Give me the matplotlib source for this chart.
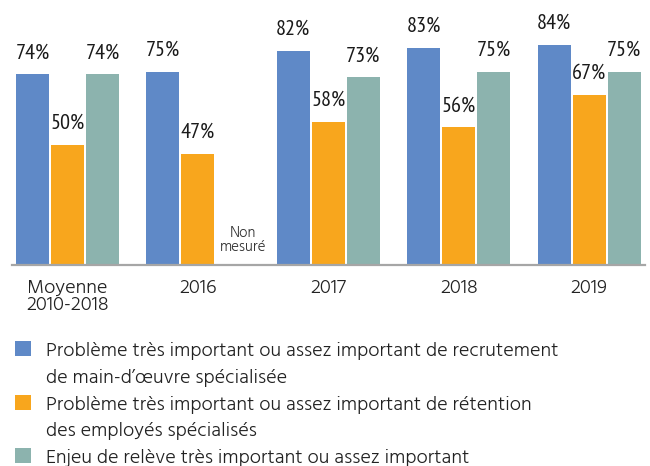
import matplotlib
matplotlib.use("Agg")
import matplotlib.pyplot as plt
from matplotlib.patches import Rectangle
import numpy as np

categories = ["Moyenne\n2010-2018", "2016", "2017", "2018", "2019"]
series_names = [
    "Problème très important ou assez important de recrutement\nde main-d\u2019œuvre spécialisée",
    "Problème très important ou assez important de rétention\ndes employés spécialisés",
    "Enjeu de relève très important ou assez important",
]
recrutement = [74, 75, 82, 83, 84]
retention = [50, 47, 58, 56, 67]
releve = [74, None, 73, 75, 75]
missing_note = "Non\nmesuré"

colors = ["#5F89C7", "#F8A61D", "#8CB3AE"]
series = [recrutement, retention, releve]

W, H = 650, 466
fig = plt.figure(figsize=(W / 100, H / 100), dpi=100)
ax = fig.add_axes([12 / W, 1 - 265 / H, 633 / W, 265 / H])

val_font = "PT Sans Narrow"
txt_font = "Hind"

x = np.arange(len(categories))
bw = 0.253
step = 0.268
for i, (vals, c) in enumerate(zip(series, colors)):
    off = (i - 1) * step
    for xi, v in zip(x, vals):
        if v is None:
            ax.text(xi + off + 0.078, 14.07, missing_note, ha="center", va="baseline",
                    fontsize=10.8, family=txt_font, fontweight="light", color="#333333",
                    linespacing=1.0)
            continue
        ax.bar(xi + off, v, width=bw, color=c, linewidth=0)
        ax.annotate(f"{v}%", (xi + off, v), xytext=(0, 11.5), textcoords="offset points",
                    ha="center", va="baseline", fontsize=16, family=val_font, color="#1a1a1a")

ax.set_xlim(-0.4256, 4.429)
ax.set_ylim(9.32, 99.27)
for s in ["top", "right", "left"]:
    ax.spines[s].set_visible(False)
ax.spines["bottom"].set_color("#A6A6A6")
ax.spines["bottom"].set_linewidth(1.6)
ax.set_yticks([])
ax.set_xticks(x)
ax.set_xticklabels(categories, fontsize=14.5, family=txt_font, fontweight="light",
                   color="#222222", linespacing=0.95)
ax.tick_params(axis="x", length=0, pad=10)

# legend drawn manually
sqw, sqh = 16, 15
line_gap = 26.75
n = 0
for name, c in zip(series_names, colors):
    base0 = 356 + n * line_gap
    fig.add_artist(Rectangle((15 / W, 1 - base0 / H), sqw / W, sqh / H,
                             transform=fig.transFigure, color=c, linewidth=0))
    for ln in name.split("\n"):
        base = 356 + n * line_gap
        fig.text(46 / W, 1 - base / H, ln, ha="left", va="baseline", fontsize=14.5,
                 family=txt_font, fontweight="light", color="#222222")
        n += 1

fig.savefig("out.png", dpi=100)
